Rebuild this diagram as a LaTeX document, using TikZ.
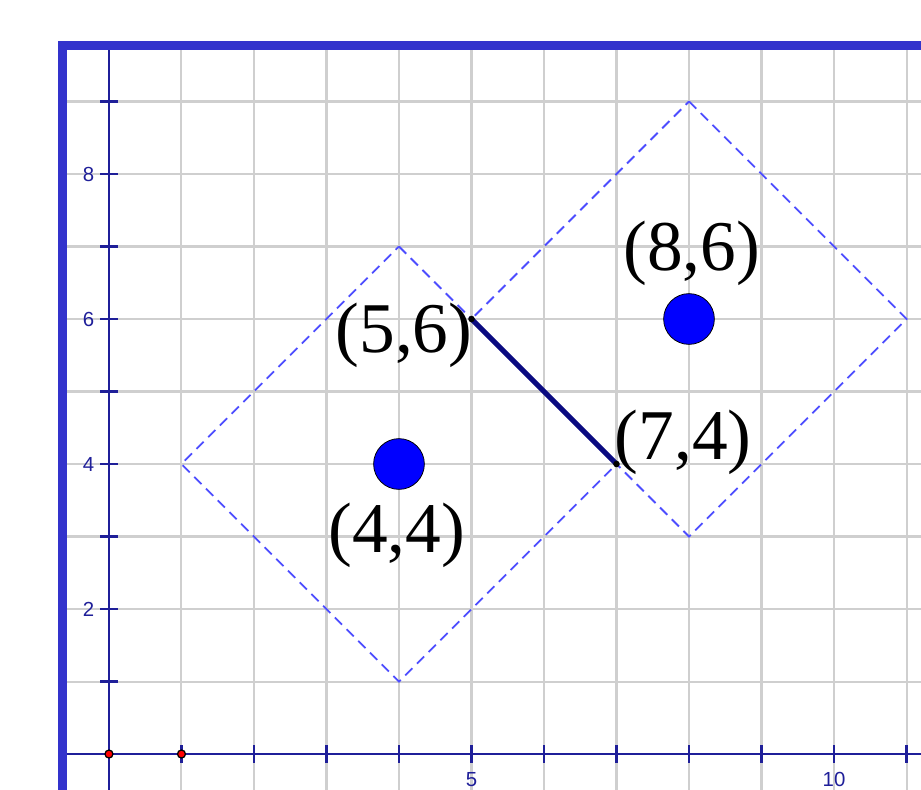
\documentclass[tikz,border=0pt]{standalone}
\usepackage{fontspec}
\setmainfont{Liberation Serif}
\setsansfont{Liberation Sans}
\usetikzlibrary{positioning}
\definecolor{framecol}{HTML}{3333CC}
\definecolor{axiscol}{HTML}{1F1F99}
\definecolor{gridcol}{HTML}{CFCFCF}
\definecolor{squarecol}{HTML}{4D4DFF}
\definecolor{segcol}{HTML}{0A0A80}
\tikzset{
    gridline/.style={
        draw=gridcol, line width=0.8pt
    },
    axisline/.style={
        draw=axiscol, line width=0.9pt
    },
    ticklabel/.style={
        font=\sffamily\fontsize{8}{8}\selectfont, text=axiscol, inner sep=1pt
    },
    square/.style={
        draw=squarecol, line width=0.7pt, dash pattern=on 4pt off 2.5pt
    },
    centre/.style={
        circle, fill=blue, draw=black, line width=0.3pt, minimum size=0.70cm, inner sep=0pt
    },
    endpt/.style={
        circle, fill=black, minimum size=0.09cm, inner sep=0pt
    },
    origpt/.style={
        circle, fill=red, draw=black, line width=0.5pt, minimum size=0.11cm, inner sep=0pt
    },
    coordlabel/.style={
        font=\fontsize{28}{28}\selectfont, inner sep=0pt
    },
    segment/.style={
        draw=segcol, line width=2pt
    },
    frame/.style={
        draw=framecol, line width=3.5pt
    }
}

\begin{document}
\begin{tikzpicture}

    \useasboundingbox (-1.503,-0.483) rectangle (11.2,10.4);

    % grid and axes
    \begin{scope}
        \clip (-0.58,-0.483) rectangle (11.2,9.71);
        \foreach \x in {1,...,11} \draw[gridline] (\x,-1) -- (\x,11);
        \foreach \y in {1,...,9}  \draw[gridline] (-1,\y) -- (12,\y);
        \draw[axisline] (0,-1) -- (0,11);
        \draw[axisline] (-1,0) -- (12,0);
        \foreach \t in {1,...,11} \draw[axisline] (\t,-0.12) -- (\t,0.12);
        \foreach \t in {1,...,9}  \draw[axisline] (-0.12,\t) -- (0.12,\t);
    \end{scope}

    \foreach \t in {2,4,6,8} \node[ticklabel, anchor=east] (ylab\t) at (-0.16,\t) {\t};
    \node[ticklabel] (xlab5)  at (5,-0.35)  {5};
    \node[ticklabel] (xlab10) at (10,-0.35) {10};

    \node[origpt] (o0) at (0,0) {};
    \node[origpt] (o1) at (1,0) {};

    \draw[frame] (-0.641,-1) -- (-0.641,9.772) -- (12,9.772);

    % the two squares
    \draw[square] (4,7) -- (7,4) -- (4,1) -- (1,4) -- cycle;
    \draw[square] (8,9) -- (11,6) -- (8,3) -- (5,6) -- cycle;

    \node[centre] (cA) at (4,4) {};
    \node[centre] (cB) at (8,6) {};

    \coordinate (pA) at (5,6);
    \coordinate (pB) at (7,4);
    \draw[segment] (pA) -- (pB);
    \node[endpt] (eA) at (pA) {};
    \node[endpt] (eB) at (pB) {};

    \node[coordlabel] (lA) at (3.97,3.01) {(4,4)};
    \node[coordlabel] (lB) at (8.04,6.91) {(8,6)};
    \node[coordlabel] (lpA) at (4.07,5.78) {(5,6)};
    \node[coordlabel] (lpB) at (7.92,4.30) {(7,4)};

\end{tikzpicture}
\end{document}
